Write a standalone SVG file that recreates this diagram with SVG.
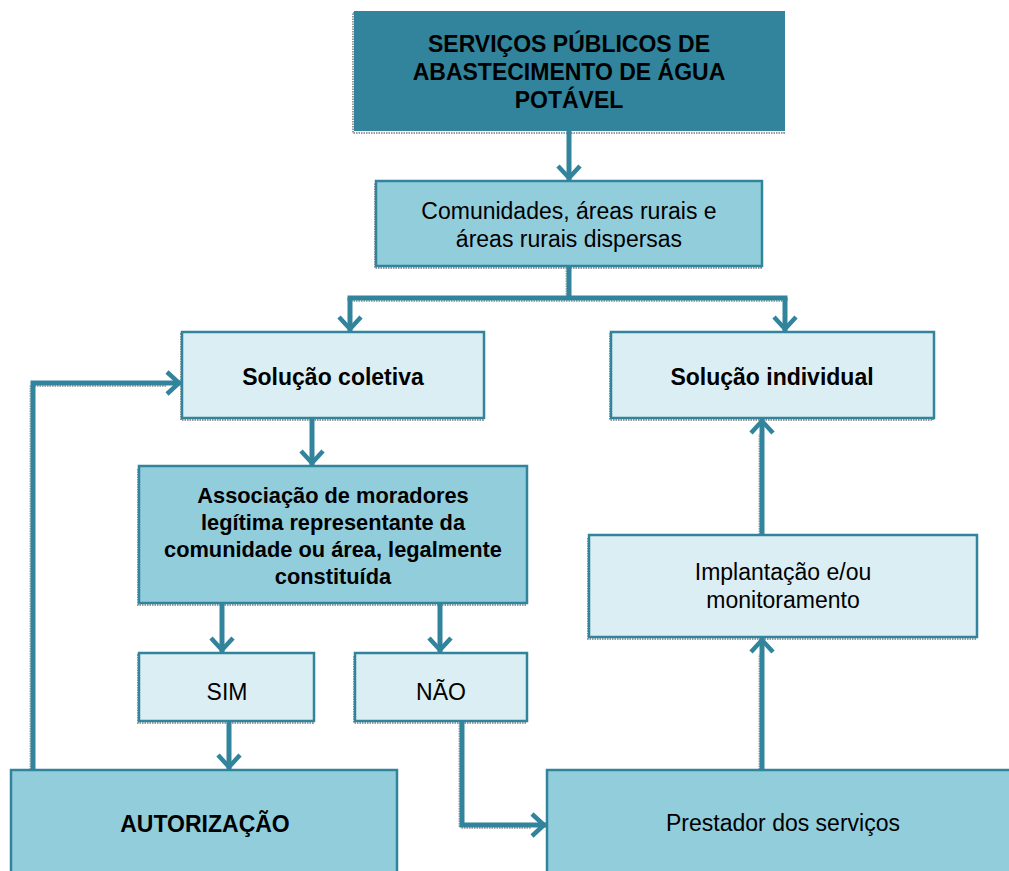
<svg xmlns="http://www.w3.org/2000/svg" width="1009" height="871" viewBox="0 0 1009 871">
<style>
.box{stroke:#31849b;stroke-width:2.5}
.dark{fill:#31849b}
.mid{fill:#92cddc}
.light{fill:#dbeef3}
.sh{fill:none;stroke:#9a9a9a;stroke-width:2;stroke-dasharray:1.5 1}
.t{font-family:"Liberation Sans",Arial,sans-serif;font-size:23px;fill:#000;text-anchor:middle}
.b{font-weight:bold}
.s{font-size:21.8px}
.c{fill:none;stroke:#31849b;stroke-width:5;stroke-linejoin:miter;stroke-linecap:butt}
.cs{fill:none;stroke:#a8a8a8;stroke-width:4;stroke-dasharray:1.5 1}
</style>
<defs>
<marker id="ah" markerUnits="userSpaceOnUse" viewBox="0 0 22 28" markerWidth="22" markerHeight="28" refX="18" refY="14" orient="auto">
<path d="M3,3 L15,14 L3,25" fill="none" stroke="#31849b" stroke-width="4.5"/>
</marker>
</defs>
<rect width="1009" height="871" fill="#fff"/>

<g id="shadows">
<rect class="sh" x="353" y="13" width="431" height="120"/>
<rect class="sh" x="375" y="183" width="386" height="85"/>
<rect class="sh" x="181" y="334" width="302" height="86"/>
<rect class="sh" x="610" y="334" width="323" height="86"/>
<rect class="sh" x="138" y="468" width="388" height="137"/>
<rect class="sh" x="138" y="655" width="175" height="68"/>
<rect class="sh" x="354" y="655" width="172" height="68"/>
<rect class="sh" x="588" y="537" width="388" height="102"/>
<path class="cs" transform="translate(-1.5,2)" d="M569,266 V298 M350,298 H785 M33,770 V383 H168 M462,721 V825 H533 M762,770 V652 M762,535 V432"/>
</g>

<g id="connectors">
<path class="c" d="M569,131 V181" marker-end="url(#ah)"/>
<path class="c" d="M569,266 V298"/>
<path class="c" d="M347.5,298 H787.5"/>
<path class="c" d="M350,298 V332" marker-end="url(#ah)"/>
<path class="c" d="M785,298 V332" marker-end="url(#ah)"/>
<path class="c" d="M312,418 V466" marker-end="url(#ah)"/>
<path class="c" d="M222,603 V653" marker-end="url(#ah)"/>
<path class="c" d="M440,603 V653" marker-end="url(#ah)"/>
<path class="c" d="M229,721 V770" marker-end="url(#ah)"/>
<path class="c" d="M33,770 V383 H182" marker-end="url(#ah)"/>
<path class="c" d="M462,721 V825 H547" marker-end="url(#ah)"/>
<path class="c" d="M762,770 V637" marker-end="url(#ah)"/>
<path class="c" d="M762,535 V418" marker-end="url(#ah)"/>
</g>

<g id="n-servicos">
<rect class="dark" x="354" y="11" width="431" height="120"/>
<text class="t b" x="569" y="52">SERVIÇOS PÚBLICOS DE</text>
<text class="t b" x="569" y="80">ABASTECIMENTO DE ÁGUA</text>
<text class="t b" x="569" y="108">POTÁVEL</text>
</g>

<g id="n-comunidades">
<rect class="box mid" x="376" y="181" width="386" height="85"/>
<text class="t" x="569" y="219">Comunidades, áreas rurais e</text>
<text class="t" x="569" y="247">áreas rurais dispersas</text>
</g>

<g id="n-coletiva">
<rect class="box light" x="182" y="332" width="302" height="86"/>
<text class="t b" x="333" y="385">Solução coletiva</text>
</g>

<g id="n-individual">
<rect class="box light" x="611" y="332" width="323" height="86"/>
<text class="t b" x="772" y="385">Solução individual</text>
</g>

<g id="n-associacao">
<rect class="box mid" x="139" y="466" width="388" height="137"/>
<text class="t b s" x="333" y="503">Associação de moradores</text>
<text class="t b s" x="333" y="530">legítima representante da</text>
<text class="t b s" x="333" y="557">comunidade ou área, legalmente</text>
<text class="t b s" x="333" y="584">constituída</text>
</g>

<g id="n-sim">
<rect class="box light" x="139" y="653" width="175" height="68"/>
<text class="t" x="227" y="700">SIM</text>
</g>

<g id="n-nao">
<rect class="box light" x="355" y="653" width="172" height="68"/>
<text class="t" x="441" y="700">NÃO</text>
</g>

<g id="n-implantacao">
<rect class="box light" x="589" y="535" width="388" height="102"/>
<text class="t" x="783" y="580">Implantação e/ou</text>
<text class="t" x="783" y="608">monitoramento</text>
</g>

<g id="n-autorizacao">
<rect class="box mid" x="11" y="770" width="386" height="110"/>
<text class="t b" x="205" y="832">AUTORIZAÇÃO</text>
</g>

<g id="n-prestador">
<rect class="box mid" x="547" y="770" width="470" height="110"/>
<text class="t" x="783" y="831">Prestador dos serviços</text>
</g>
</svg>
